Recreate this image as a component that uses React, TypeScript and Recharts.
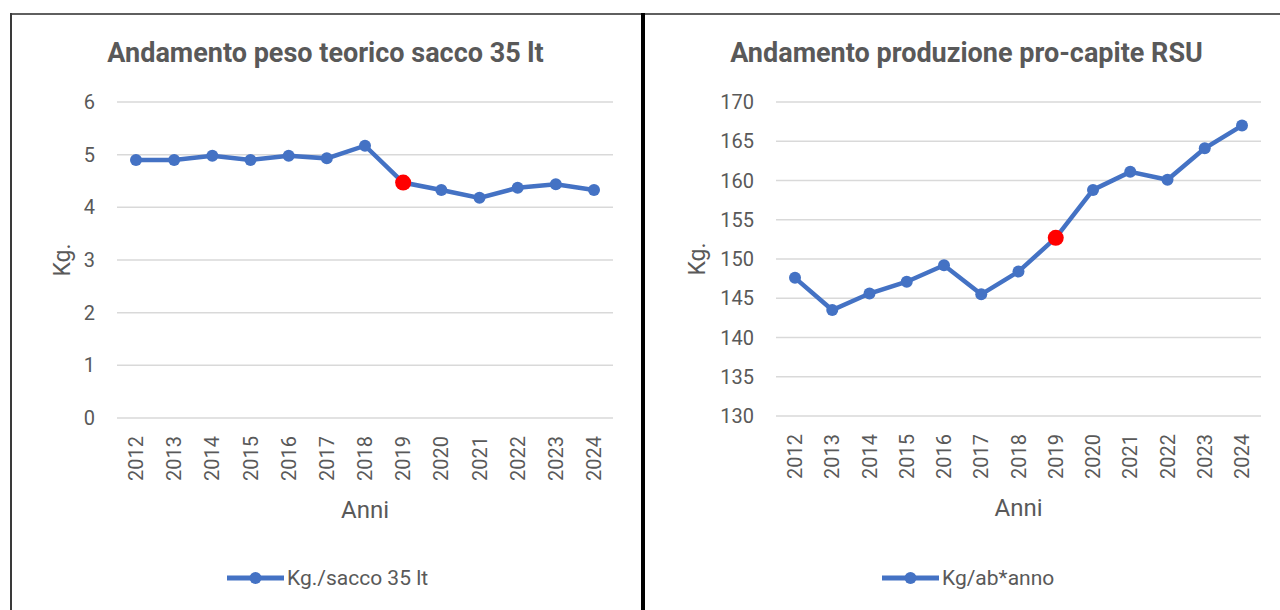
import React from 'react';
import { LineChart, Line, XAxis, YAxis, CartesianGrid, Legend } from 'recharts';

const years = ['2012', '2013', '2014', '2015', '2016', '2017', '2018', '2019', '2020', '2021', '2022', '2023', '2024'];
const pesoSacco = [4.9, 4.9, 4.98, 4.9, 4.98, 4.93, 5.17, 4.47, 4.33, 4.18, 4.37, 4.44, 4.33];
const proCapite = [147.6, 143.5, 145.6, 147.1, 149.2, 145.5, 148.4, 152.7, 158.8, 161.1, 160.1, 164.1, 167.0];
const highlightYear = '2019';
const leftTicks = [0, 1, 2, 3, 4, 5, 6];
const rightTicks = [130, 135, 140, 145, 150, 155, 160, 165, 170];
const leftTitle = 'Andamento peso teorico sacco 35 lt';
const rightTitle = 'Andamento produzione pro-capite RSU';
const leftSeriesName = 'Kg./sacco 35 lt';
const rightSeriesName = 'Kg/ab*anno';
const xTitle = 'Anni';
const yTitle = 'Kg.';

const BLUE = '#4472C4';
const RED = '#FF0000';
const TEXT = '#595959';
const GRID = '#d9d9d9';
const FONT = 'Roboto, "Noto Sans", sans-serif';

const leftData = years.map((y, i) => ({ year: y, value: pesoSacco[i] }));
const rightData = years.map((y, i) => ({ year: y, value: proCapite[i] }));

const XTick = (props: any) => {
  const { x, y, payload } = props;
  return (
    <text
      x={x}
      y={y}
      transform={`rotate(-90 ${x} ${y})`}
      textAnchor="end"
      dominantBaseline="central"
      fill={TEXT}
      fontSize={20}
      fontFamily={FONT}
    >
      {payload.value}
    </text>
  );
};

const renderDot = (props: any) => {
  const { cx, cy, payload, index } = props;
  if (cx == null || cy == null) return <g key={`d-${index}`} />;
  const hl = payload && payload.year === highlightYear;
  return <circle key={`d-${index}`} cx={cx} cy={cy} r={hl ? 8 : 6} fill={hl ? RED : BLUE} stroke="none" />;
};

const makeLegend = (label: string) => () => (
  <div
    style={{
      display: 'flex',
      alignItems: 'center',
      justifyContent: 'flex-start',
      fontFamily: FONT,
      fontSize: 21,
      lineHeight: '26px',
      color: TEXT,
      whiteSpace: 'nowrap',
    }}
  >
    <svg width={57} height={14} style={{ display: 'block' }}>
      <line x1={0} y1={7} x2={57} y2={7} stroke={BLUE} strokeWidth={5} />
      <circle cx={28.5} cy={7} r={6} fill={BLUE} />
    </svg>
    <span style={{ marginLeft: 3 }}>{label}</span>
  </div>
);

type PanelProps = {
  data: { year: string; value: number }[];
  ticks: number[];
  domain: [number, number];
  seriesName: string;
  yAxisWidth: number;
  marginRight: number;
  marginBottom: number;
  yLabelX: number;
  legendLeft: number;
};

const Panel = ({ data, ticks, domain, seriesName, yAxisWidth, marginRight, marginBottom, yLabelX, legendLeft }: PanelProps) => (
  <LineChart width={640} height={610} data={data} margin={{ top: 102, right: marginRight, bottom: marginBottom, left: 0 }}>
    <CartesianGrid vertical={false} stroke={GRID} strokeWidth={1.5} />
    <XAxis
      dataKey="year"
      type="category"
      padding={{ left: 19, right: 19 }}
      axisLine={false}
      tickLine={false}
      tickMargin={12}
      height={110}
      interval={0}
      tick={<XTick />}
      label={{
        content: (p: any) => {
          const vb = p.viewBox || {};
          return (
            <text
              x={vb.x + vb.width / 2}
              y={vb.y + 100}
              textAnchor="middle"
              fill={TEXT}
              fontSize={24}
              fontFamily={FONT}
            >
              {xTitle}
            </text>
          );
        },
      }}
    />
    <YAxis
      type="number"
      domain={domain}
      ticks={ticks}
      interval={0}
      width={yAxisWidth}
      axisLine={false}
      tickLine={false}
      tickMargin={16}
      tick={{ fill: TEXT, fontSize: 20, fontFamily: FONT }}
      label={{
        content: (p: any) => {
          const vb = p.viewBox || {};
          const cy = vb.y + vb.height / 2;
          return (
            <text
              x={yLabelX}
              y={cy}
              transform={`rotate(-90 ${yLabelX} ${cy})`}
              textAnchor="middle"
              dominantBaseline="central"
              fill={TEXT}
              fontSize={23}
              fontFamily={FONT}
            >
              {yTitle}
            </text>
          );
        },
      }}
    />
    <Legend
      layout="horizontal"
      verticalAlign="middle"
      align="center"
      content={makeLegend(seriesName)}
      wrapperStyle={{ top: 565, left: legendLeft, width: 300, height: 26 }}
    />
    <Line
      type="linear"
      dataKey="value"
      name={seriesName}
      stroke={BLUE}
      strokeWidth={4.5}
      dot={renderDot}
      activeDot={false}
      isAnimationActive={false}
    />
  </LineChart>
);

export default function App() {
  return (
    <div style={{ position: 'absolute', left: 0, top: 0, width: 1280, height: 610, overflow: 'hidden', background: '#fff' }}>
      <div style={{ position: 'absolute', left: 10, top: 13, width: 1270, height: 2, background: '#5f5f5f' }} />
      <div style={{ position: 'absolute', left: 10, top: 13, width: 2, height: 600, background: '#3a3a3a' }} />
      <div style={{ position: 'absolute', left: 641, top: 13, width: 4, height: 600, background: '#000' }} />

      <div style={{ position: 'absolute', left: 0, top: 0 }}>
        <Panel
          data={leftData}
          ticks={leftTicks}
          domain={[0, 6]}
          seriesName={leftSeriesName}
          yAxisWidth={117}
          marginRight={27}
          marginBottom={82}
          yLabelX={62}
          legendLeft={227}
        />
      </div>
      <div style={{ position: 'absolute', left: 640, top: 0 }}>
        <Panel
          data={rightData}
          ticks={rightTicks}
          domain={[130, 170]}
          seriesName={rightSeriesName}
          yAxisWidth={136}
          marginRight={19}
          marginBottom={84}
          yLabelX={57}
          legendLeft={242}
        />
      </div>

      <svg width={1280} height={100} style={{ position: 'absolute', left: 0, top: 0, pointerEvents: 'none' }}>
        <text x={325.5} y={62} textAnchor="middle" fill={TEXT} fontSize={27} fontWeight="bold" fontFamily={FONT}>
          {leftTitle}
        </text>
        <text x={966.5} y={62} textAnchor="middle" fill={TEXT} fontSize={27} fontWeight="bold" fontFamily={FONT}>
          {rightTitle}
        </text>
      </svg>
    </div>
  );
}
